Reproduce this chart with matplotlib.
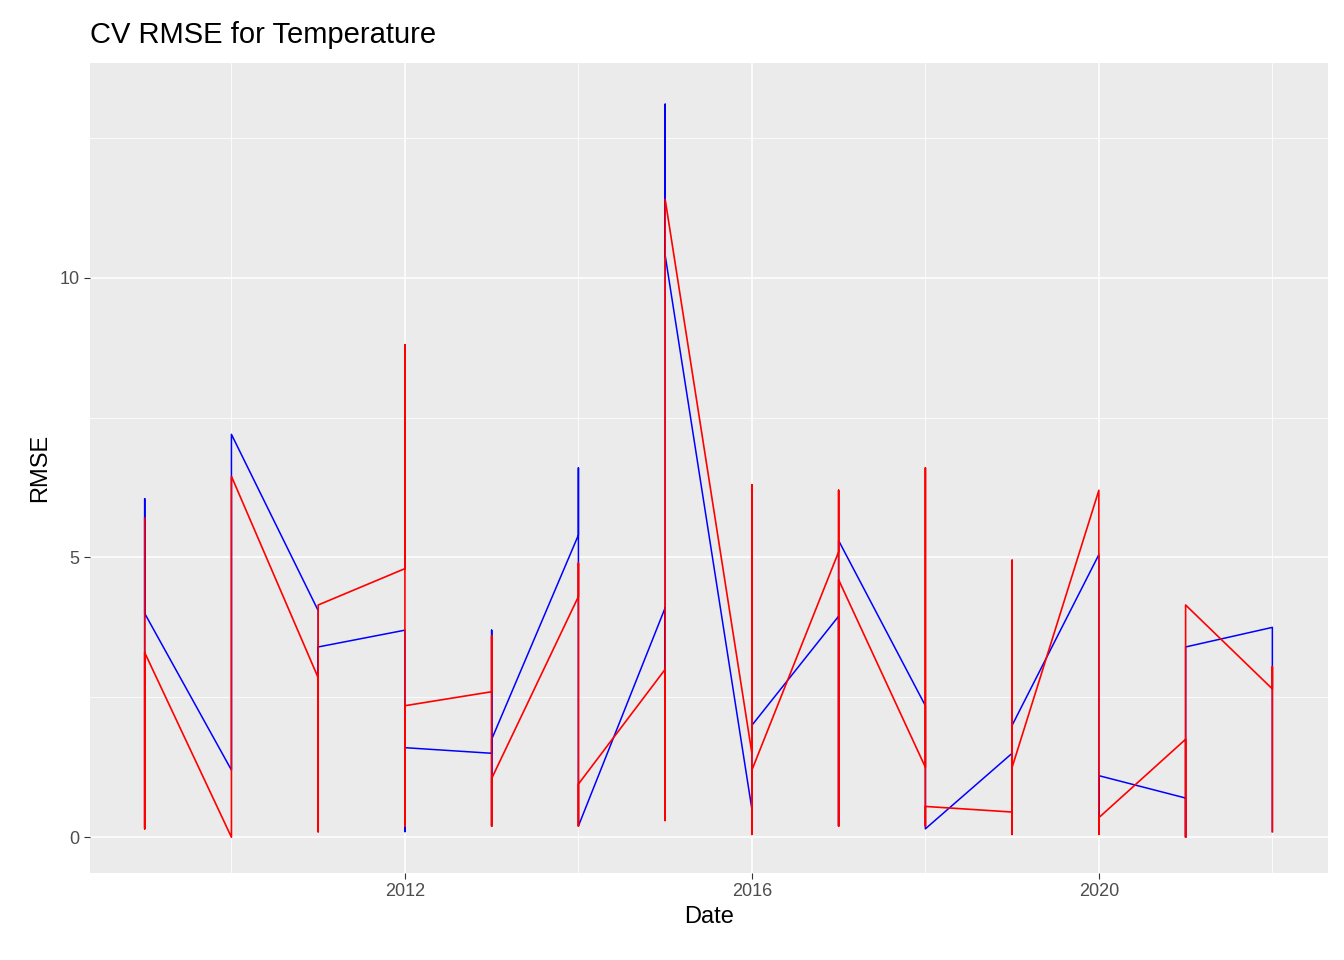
import numpy as np
import matplotlib.pyplot as plt

plt.rcParams['font.family'] = ['Liberation Sans', 'DejaVu Sans']

''' data: per-year sequences of RMSE values (drawn in date order) '''
years = list(range(2009, 2023))
blue_vals = [
    [0.2, 6.05, 4.0], [1.2, 7.2], [4.05, 0.1, 3.4], [3.7, 0.1, 1.6],
    [1.5, 3.7, 0.2, 1.75], [5.4, 6.6, 0.2], [4.1, 0.3, 13.1, 10.4],
    [0.5, 0.1, 2.0], [3.95, 0.2, 5.3], [2.35, 0.15], [1.5, 0.1, 2.0],
    [5.05, 0.1, 1.1], [0.7, 0.0, 3.4], [3.75, 0.1],
]
red_vals = [
    [5.7, 0.15, 3.3], [0.0, 6.45], [2.85, 0.1, 4.15], [4.8, 8.8, 0.2, 2.35],
    [2.6, 3.6, 0.2, 1.05], [4.3, 4.9, 0.2, 0.95], [3.0, 0.3, 11.4],
    [1.5, 6.3, 0.05, 1.2], [5.1, 6.2, 0.2, 4.6], [1.25, 6.6, 0.2, 0.55],
    [0.45, 4.95, 0.05, 1.25], [6.2, 0.05, 0.35], [1.75, 0.0, 4.15],
    [2.65, 3.05, 0.1],
]


def flatten(vals):
    xs, ys = [], []
    for yr, v in zip(years, vals):
        xs += [yr] * len(v)
        ys += v
    return xs, ys


fig = plt.figure(figsize=(13.44, 9.6), dpi=100)
ax = fig.add_axes([0.067, 0.0906, 0.921, 0.844])
ax.set_facecolor('#EBEBEB')
for s in ax.spines.values():
    s.set_visible(False)

bx, by = flatten(blue_vals)
rx, ry = flatten(red_vals)
ax.plot(bx, by, color='blue', lw=1.1)
ax.plot(rx, ry, color='red', lw=1.2)

ax.set_xlim(2008.37, 2022.64)
ax.set_ylim(-0.64, 13.84)
ax.set_xticks([2012, 2016, 2020])
ax.set_xticks([2010, 2014, 2018, 2022], minor=True)
ax.set_yticks([0, 5, 10])
ax.set_yticks([2.5, 7.5, 12.5], minor=True)
ax.grid(which='major', color='white', lw=1.1)
ax.grid(which='minor', color='white', lw=0.55)
ax.set_axisbelow(True)
ax.tick_params(which='major', length=4, color='#333333', labelsize=13, labelcolor='#4D4D4D')
ax.tick_params(which='minor', length=0)

ax.set_xlabel('Date', fontsize=17, labelpad=4)
ax.set_ylabel('RMSE', fontsize=17, labelpad=6)
ax.set_title('CV RMSE for Temperature', fontsize=21, loc='left', x=0.0, pad=14)

fig.savefig('out.png', dpi=100)
